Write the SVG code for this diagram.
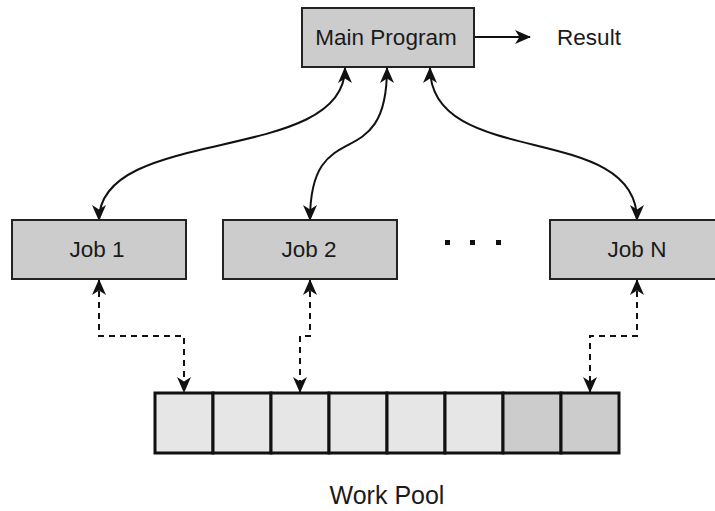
<svg xmlns="http://www.w3.org/2000/svg" width="715" height="511" viewBox="0 0 715 511">
<defs>
<style>
.box{fill:#cccccc;stroke:#222;stroke-width:2}
.lbl{font-family:"Liberation Sans",Arial,sans-serif;font-size:22.5px;fill:#1a1a1a;text-anchor:middle}
.con{fill:none;stroke:#111;stroke-width:2}
.dash{stroke-dasharray:6,5}
.cell{stroke:#111;stroke-width:3}
.light{fill:#e6e6e6}
.dark{fill:#cccccc}
</style>
<marker id="ah" viewBox="0 0 16 14" refX="15" refY="7" markerWidth="16" markerHeight="14" markerUnits="userSpaceOnUse" orient="auto-start-reverse">
<path d="M0,0 L16,7 L0,14 L4.5,7 z" fill="#111"/>
</marker>
</defs>
<g id="connectors">
<path class="con" d="M474,37 L530,37" marker-end="url(#ah)"/>
<path class="con" d="M345,68 C345,165 99,125 99,220" marker-start="url(#ah)" marker-end="url(#ah)"/>
<path class="con" d="M387,68 C387,180 310,110 310,220" marker-start="url(#ah)" marker-end="url(#ah)"/>
<path class="con" d="M430,68 C430,170 637,120 637,220" marker-start="url(#ah)" marker-end="url(#ah)"/>
<path class="con dash" d="M99,280 L99,336 L184,336 L184,392" marker-start="url(#ah)" marker-end="url(#ah)"/>
<path class="con dash" d="M310,280 L310,336 L300,336 L300,392" marker-start="url(#ah)" marker-end="url(#ah)"/>
<path class="con dash" d="M637,280 L637,336 L590,336 L590,392" marker-start="url(#ah)" marker-end="url(#ah)"/>
</g>
<g id="main">
<rect class="box" x="302" y="8" width="172" height="59"/>
<text class="lbl" x="386" y="45">Main Program</text>
</g>
<g id="result">
<text class="lbl" x="589" y="45">Result</text>
</g>
<g id="job1">
<rect class="box" x="12" y="220" width="174" height="59"/>
<text class="lbl" x="97" y="257">Job 1</text>
</g>
<g id="job2">
<rect class="box" x="223" y="220" width="174" height="59"/>
<text class="lbl" x="309" y="257">Job 2</text>
</g>
<g id="ellipsis">
<rect x="445" y="240" width="5" height="5" fill="#111"/>
<rect x="470" y="240" width="5" height="5" fill="#111"/>
<rect x="496" y="240" width="5" height="5" fill="#111"/>
</g>
<g id="jobN">
<rect class="box" x="550" y="220" width="174" height="59"/>
<text class="lbl" x="637" y="257">Job N</text>
</g>
<g id="pool">
<rect class="cell light" x="155" y="393" width="58" height="60"/>
<rect class="cell light" x="213" y="393" width="58" height="60"/>
<rect class="cell light" x="271" y="393" width="58" height="60"/>
<rect class="cell light" x="329" y="393" width="58" height="60"/>
<rect class="cell light" x="387" y="393" width="58" height="60"/>
<rect class="cell light" x="445" y="393" width="58" height="60"/>
<rect class="cell dark" x="503" y="393" width="58" height="60"/>
<rect class="cell dark" x="561" y="393" width="58" height="60"/>
<text class="lbl" x="387" y="504" style="font-size:25px">Work Pool</text>
</g>
</svg>
